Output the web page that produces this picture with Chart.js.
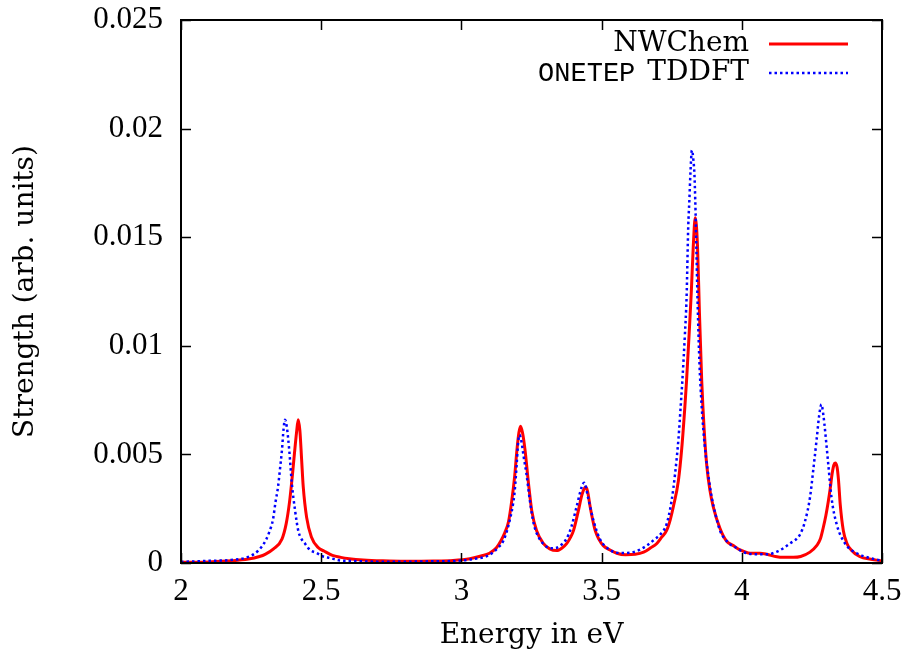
<!DOCTYPE html>
<html>
<head>
<meta charset="utf-8">
<script src="https://cdn.jsdelivr.net/npm/chart.js@4.4.1/dist/chart.umd.min.js"></script>
<style>
  body { margin: 0; background: #fff; }
  #spectrum { display: block; }
</style>
</head>
<body>
<canvas id="spectrum" width="909" height="650"></canvas>
<script>
// values (energy in eV, strength in arb. units)
const nwEnergy = [
  2.00, 2.10, 2.18, 2.24, 2.28, 2.30, 2.33, 2.36, 2.375, 2.387, 2.397, 2.405, 2.412, 2.418,
  2.424, 2.43, 2.436, 2.448, 2.465, 2.49, 2.51, 2.54, 2.57, 2.60, 2.65, 2.72, 2.80, 2.90,
  2.97, 3.03, 3.07, 3.10, 3.125, 3.14, 3.155, 3.168, 3.18, 3.19, 3.198, 3.205, 3.211, 3.218,
  3.227, 3.239, 3.251, 3.268, 3.292, 3.315, 3.34, 3.36, 3.376, 3.39, 3.40, 3.417, 3.429,
  3.437, 3.443, 3.45, 3.459, 3.468, 3.477, 3.49, 3.506, 3.53, 3.554, 3.585, 3.62, 3.65,
  3.675, 3.697, 3.715, 3.732, 3.745, 3.756, 3.774, 3.786, 3.797, 3.803, 3.812, 3.82, 3.827,
  3.834, 3.842, 3.849, 3.857, 3.866, 3.875, 3.887, 3.898, 3.922, 3.946, 3.97, 3.994, 4.03,
  4.065, 4.09, 4.12, 4.15, 4.184, 4.21, 4.243, 4.267, 4.28, 4.29, 4.30, 4.308, 4.315, 4.322,
  4.328, 4.333, 4.34, 4.345, 4.351, 4.362, 4.375, 4.39, 4.42, 4.46, 4.50
];
const nwStrength = [
  0.00003, 0.00005, 0.0001, 0.00018, 0.0003, 0.0004, 0.00065, 0.0011, 0.0018, 0.0028, 0.0040, 0.0051, 0.0060, 0.0066,
  0.0061, 0.0048, 0.0035, 0.0021, 0.0012, 0.0007, 0.00055, 0.00035, 0.00026, 0.0002, 0.00014, 0.0001, 0.00008, 0.00009,
  0.00012, 0.0002, 0.00032, 0.00045, 0.0007, 0.001, 0.0014, 0.0019, 0.0029, 0.0040, 0.0052, 0.0060, 0.0063, 0.0060,
  0.0052, 0.0037, 0.0024, 0.0015, 0.0009, 0.00065, 0.00057, 0.0007, 0.0009, 0.0012, 0.0015, 0.0024, 0.0031,
  0.0034, 0.0035, 0.0033, 0.0026, 0.0020, 0.0015, 0.0011, 0.0008, 0.0006, 0.00045, 0.00038, 0.0004, 0.0005,
  0.0007, 0.0009, 0.0012, 0.0015, 0.0020, 0.0026, 0.0038, 0.0053, 0.0072, 0.0084, 0.0105, 0.0125, 0.0146,
  0.0159, 0.0146, 0.0115, 0.0084, 0.0061, 0.0045, 0.0033, 0.0026, 0.0016, 0.0010, 0.0008, 0.0006, 0.00045,
  0.00045, 0.0004, 0.0003, 0.00026, 0.00026, 0.0003, 0.0005, 0.0008, 0.0011, 0.0016, 0.0022, 0.0028, 0.0034, 0.0041,
  0.0045, 0.0046, 0.0044, 0.0038, 0.0027, 0.0015, 0.0009, 0.0006, 0.0003, 0.00017, 0.0001
];

const tdEnergy = [
  2.00, 2.10, 2.178, 2.24, 2.278, 2.303, 2.314, 2.328, 2.337, 2.346, 2.352, 2.36, 2.366, 2.371,
  2.377, 2.386, 2.395, 2.407, 2.418, 2.43, 2.442, 2.46, 2.484, 2.507, 2.531, 2.567, 2.60, 2.70,
  2.80, 2.90, 2.984, 3.04, 3.10, 3.13, 3.149, 3.163, 3.173, 3.184, 3.19, 3.197, 3.202, 3.207,
  3.214, 3.222, 3.232, 3.245, 3.258, 3.275, 3.304, 3.325, 3.34, 3.355, 3.369, 3.382, 3.393,
  3.411, 3.429, 3.438, 3.452, 3.47, 3.494, 3.53, 3.566, 3.613, 3.661, 3.69, 3.708, 3.732,
  3.75, 3.762, 3.774, 3.782, 3.788, 3.797, 3.803, 3.809, 3.813, 3.817, 3.822, 3.827, 3.831,
  3.834, 3.838, 3.842, 3.849, 3.856, 3.863, 3.872, 3.881, 3.893, 3.905, 3.922, 3.951, 3.98,
  4.006, 4.053, 4.089, 4.13, 4.172, 4.207, 4.225, 4.243, 4.255, 4.267, 4.276, 4.284, 4.291,
  4.297, 4.308, 4.32, 4.338, 4.368, 4.41, 4.457, 4.50
];
const tdStrength = [
  0.00005, 0.0001, 0.00014, 0.00028, 0.0006, 0.00106, 0.0014, 0.0020, 0.0028, 0.0035, 0.0042, 0.0052, 0.0062, 0.0066,
  0.0063, 0.0052, 0.0037, 0.0024, 0.0015, 0.0011, 0.0009, 0.0006, 0.00046, 0.0003, 0.00023, 0.00012, 0.0001, 0.00006,
  0.00006, 0.00008, 0.0001, 0.00018, 0.00037, 0.0007, 0.001, 0.0015, 0.0020, 0.0027, 0.0033, 0.0045, 0.0055, 0.0059,
  0.0056, 0.0049, 0.0041, 0.0028, 0.0018, 0.0012, 0.00075, 0.00068, 0.0007, 0.00082, 0.001, 0.0013, 0.0017,
  0.0026, 0.0035, 0.0037, 0.0030, 0.0020, 0.0011, 0.0006, 0.00046, 0.0005, 0.0008, 0.0011, 0.0013, 0.0018,
  0.0029, 0.0041, 0.0057, 0.0072, 0.0084, 0.0105, 0.0122, 0.0155, 0.0167, 0.0180, 0.0190, 0.0186, 0.0179,
  0.0167, 0.0145, 0.0122, 0.0092, 0.0074, 0.0061, 0.0049, 0.0040, 0.0030, 0.0023, 0.0015, 0.00095, 0.0007,
  0.0005, 0.0004, 0.0004, 0.00055, 0.0009, 0.0013, 0.0019, 0.0030, 0.0043, 0.0057, 0.0068, 0.0073, 0.0068,
  0.0061, 0.0046, 0.0030, 0.0018, 0.0009, 0.00045, 0.00023, 0.0001
];

const xTickLabels = ["2", "2.5", "3", "3.5", "4", "4.5"];
const yTickLabels = ["0", "0.005", "0.01", "0.015", "0.02", "0.025"];

const serif = "'Liberation Serif', serif";
const wideSerif = "'DejaVu Serif', serif";
const mono = "'Liberation Mono', 'DejaVu Sans Mono', monospace";

const toPoints = (xs, ys) => xs.map((x, i) => ({ x: x, y: ys[i] }));

// gnuplot style box with inward ticks on all four sides
const frameTicks = {
  id: "frameTicks",
  afterDatasetsDraw(chart) {
    const { ctx, chartArea: a, scales } = chart;
    ctx.save();
    ctx.strokeStyle = "#000";
    ctx.lineWidth = 1.5;
    ctx.beginPath();
    scales.x.ticks.forEach((t) => {
      const px = Math.round(scales.x.getPixelForValue(t.value)) + 0.5;
      ctx.moveTo(px, a.bottom); ctx.lineTo(px, a.bottom - 10);
      ctx.moveTo(px, a.top); ctx.lineTo(px, a.top + 10);
    });
    scales.y.ticks.forEach((t) => {
      const py = Math.round(scales.y.getPixelForValue(t.value)) + 0.5;
      ctx.moveTo(a.left, py); ctx.lineTo(a.left + 10, py);
      ctx.moveTo(a.right, py); ctx.lineTo(a.right - 10, py);
    });
    ctx.stroke();
    ctx.lineWidth = 2;
    ctx.strokeRect(a.left, a.top, a.right - a.left, a.bottom - a.top);
    ctx.restore();
  },
};

// key in the top right corner, first word of the ONETEP label in typewriter type
const keyBox = {
  id: "keyBox",
  afterDraw(chart) {
    const ctx = chart.ctx;
    const textRight = 749;
    const rows = [44, 73];
    ctx.save();
    ctx.fillStyle = "#000";
    ctx.textBaseline = "middle";
    ctx.textAlign = "right";
    chart.data.datasets.forEach((ds, i) => {
      const y = rows[i];
      const words = ds.label.split(" ");
      ctx.font = "28px " + wideSerif;
      if (ds.typewriter) {
        const rest = words.slice(1).join(" ");
        ctx.fillText(rest, textRight, y);
        const w = ctx.measureText(rest).width;
        ctx.font = "27px " + mono;
        ctx.fillText(words[0], textRight - w - 12, y + 1);
      } else {
        ctx.fillText(ds.label, textRight, y);
      }
      ctx.beginPath();
      ctx.strokeStyle = ds.borderColor;
      ctx.lineWidth = ds.borderWidth;
      ctx.setLineDash(ds.borderDash || []);
      ctx.moveTo(769, y);
      ctx.lineTo(848, y);
      ctx.stroke();
      ctx.setLineDash([]);
    });
    ctx.restore();
  },
};

new Chart(document.getElementById("spectrum"), {
  type: "line",
  data: {
    datasets: [
      {
        label: "NWChem",
        data: toPoints(nwEnergy, nwStrength),
        borderColor: "#ff0000",
        borderWidth: 3,
        pointRadius: 0,
        cubicInterpolationMode: "monotone",
        order: 2,
      },
      {
        label: "ONETEP TDDFT",
        typewriter: true,
        data: toPoints(tdEnergy, tdStrength),
        borderColor: "#0000ff",
        borderWidth: 2.5,
        borderDash: [2.5, 3],
        pointRadius: 0,
        cubicInterpolationMode: "monotone",
        order: 1,
      },
    ],
  },
  options: {
    responsive: false,
    animation: false,
    events: [],
    layout: { padding: { top: 20, right: 27, left: 0, bottom: 0 } },
    plugins: { legend: { display: false }, tooltip: { enabled: false } },
    scales: {
      x: {
        type: "linear",
        min: 2,
        max: 4.5,
        grid: { display: false, drawTicks: false },
        border: { display: false },
        ticks: {
          stepSize: 0.5,
          padding: 10,
          color: "#000",
          font: { family: serif, size: 31 },
          maxRotation: 0,
          callback: (v, i) => xTickLabels[i],
        },
        title: {
          display: true,
          text: "Energy in eV",
          color: "#000",
          font: { family: wideSerif, size: 28 },
          padding: { top: 0, bottom: -3 },
        },
        afterFit: (scale) => {
          scale.height = 87;
          scale.paddingLeft = 0;
          scale.paddingRight = 0;
        },
      },
      y: {
        min: 0,
        max: 0.025,
        grid: { display: false, drawTicks: false },
        border: { display: false },
        ticks: {
          stepSize: 0.005,
          padding: 18,
          color: "#000",
          font: { family: serif, size: 31 },
          callback: (v, i) => yTickLabels[i],
        },
        title: {
          display: true,
          text: "Strength (arb. units)",
          color: "#000",
          font: { family: wideSerif, size: 28 },
          padding: { top: 9, bottom: 0 },
        },
        afterFit: (scale) => {
          scale.width = 181;
          scale.paddingTop = 0;
          scale.paddingBottom = 0;
        },
      },
    },
  },
  plugins: [frameTicks, keyBox],
});
</script>
</body>
</html>
